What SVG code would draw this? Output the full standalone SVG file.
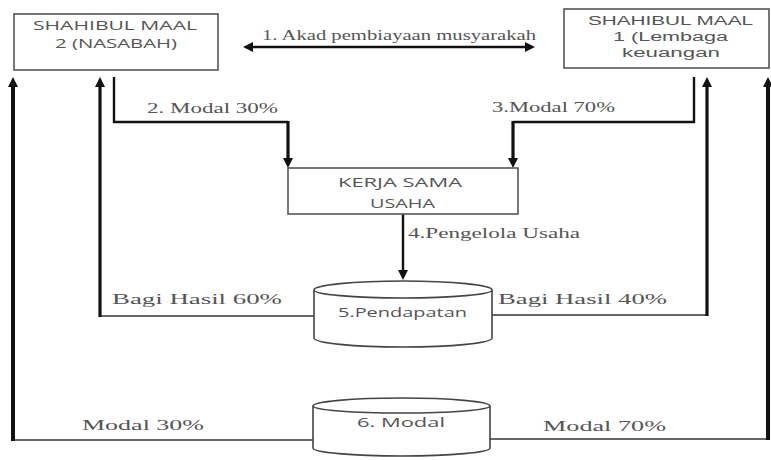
<svg xmlns="http://www.w3.org/2000/svg" width="771" height="460" viewBox="0 0 771 460">
<defs>
<style>
.box{fill:#fff;stroke:#555;stroke-width:1.6}
.cyl{fill:#fff;stroke:#444;stroke-width:1.6}
.sans{font-family:"Open Sans","Liberation Sans",sans-serif;font-size:13px;fill:#555}
.sans2{font-family:"Liberation Sans","Open Sans",sans-serif;font-size:12.5px;fill:#555}
.serif{font-family:"Liberation Serif","DejaVu Serif",serif;font-size:15px;fill:#555}
.thin{fill:none;stroke:#333;stroke-width:1.6}
.mid{fill:none;stroke:#111;stroke-width:2.4}
.thick{fill:none;stroke:#111;stroke-width:3.2}
.thicker{fill:none;stroke:#111;stroke-width:4}
</style>
<marker id="ah" viewBox="0 0 10 10" refX="2" refY="5" markerWidth="10" markerHeight="10" markerUnits="userSpaceOnUse" orient="auto-start-reverse">
<path d="M0,0 L10,5 L0,10 z" fill="#111"/>
</marker>
</defs>
<rect width="771" height="460" fill="#fff"/>

<g id="connectors">
<line class="mid" x1="251" y1="47" x2="527" y2="47" marker-start="url(#ah)" marker-end="url(#ah)"/>
<path class="mid" d="M114,77 V122 H288"/>
<path class="thick" d="M288,121 V160" marker-end="url(#ah)"/>
<path class="mid" d="M694,77 V122 H513"/>
<path class="thick" d="M513,121 V160" marker-end="url(#ah)"/>
<path class="mid" d="M403,214 V272" marker-end="url(#ah)"/>
<path class="thin" d="M314,316 H100"/>
<path class="thick" d="M100,317 V85" marker-end="url(#ah)"/>
<path class="thin" d="M491,315 H707"/>
<path class="thick" d="M707,316 V85" marker-end="url(#ah)"/>
<path class="thin" d="M314,440 H13"/>
<path class="thicker" d="M13,441 V85" marker-end="url(#ah)"/>
<path class="thin" d="M490,439 H768"/>
<path class="thicker" d="M768,440 V85" marker-end="url(#ah)"/>
<text class="serif" x="262" y="40" font-size="12" textLength="274" lengthAdjust="spacingAndGlyphs">1.  Akad pembiayaan musyarakah</text>
<text class="serif" x="147" y="113" font-size="13" textLength="131" lengthAdjust="spacingAndGlyphs">2. Modal 30%</text>
<text class="serif" x="492" y="112" font-size="13" textLength="123" lengthAdjust="spacingAndGlyphs">3.Modal 70%</text>
<text class="serif" x="408" y="238" font-size="14" textLength="172" lengthAdjust="spacingAndGlyphs">4.Pengelola Usaha</text>
<text class="serif" x="112" y="304" textLength="170" lengthAdjust="spacingAndGlyphs">Bagi Hasil 60%</text>
<text class="serif" x="498" y="304" textLength="169" lengthAdjust="spacingAndGlyphs">Bagi Hasil 40%</text>
<text class="serif" x="82" y="430" textLength="122" lengthAdjust="spacingAndGlyphs">Modal 30%</text>
<text class="serif" x="543" y="431" textLength="123" lengthAdjust="spacingAndGlyphs">Modal 70%</text>
</g>

<g id="shahibul-maal-2">
<rect class="box" x="14" y="14" width="204" height="56"/>
<text class="sans" x="33" y="30" textLength="164" lengthAdjust="spacingAndGlyphs">SHAHIBUL MAAL</text>
<text class="sans" x="55" y="48" textLength="122" lengthAdjust="spacingAndGlyphs">2 (NASABAH)</text>
</g>

<g id="shahibul-maal-1">
<rect class="box" x="564" y="9" width="205" height="59"/>
<text class="sans2" x="588" y="25" textLength="165" lengthAdjust="spacingAndGlyphs">SHAHIBUL MAAL</text>
<text class="sans2" x="613" y="41" textLength="115" lengthAdjust="spacingAndGlyphs">1 (Lembaga</text>
<text class="sans2" x="622" y="57" textLength="98" lengthAdjust="spacingAndGlyphs">keuangan</text>
</g>

<g id="kerja-sama-usaha">
<rect class="box" x="288" y="168" width="230" height="46"/>
<text class="sans" x="338" y="187" textLength="124" lengthAdjust="spacingAndGlyphs">KERJA SAMA</text>
<text class="sans" x="370" y="208" textLength="65" lengthAdjust="spacingAndGlyphs">USAHA</text>
</g>

<g id="pendapatan">
<path class="cyl" d="M314,290 A89,9 0 0 1 492,290 V338 A89,9 0 0 1 314,338 Z"/>
<path class="cyl" d="M314,290 A89,8 0 0 0 492,290" fill="none"/>
<text class="sans" x="338" y="317" textLength="129" lengthAdjust="spacingAndGlyphs">5.Pendapatan</text>
</g>

<g id="modal">
<path class="cyl" d="M313,406 A88.5,8 0 0 1 490,406 V448 A88.5,8 0 0 1 313,448 Z"/>
<path class="cyl" d="M313,406 A88.5,7 0 0 0 490,406" fill="none"/>
<text class="sans" x="357" y="427" textLength="88" lengthAdjust="spacingAndGlyphs">6. Modal</text>
</g>
</svg>
